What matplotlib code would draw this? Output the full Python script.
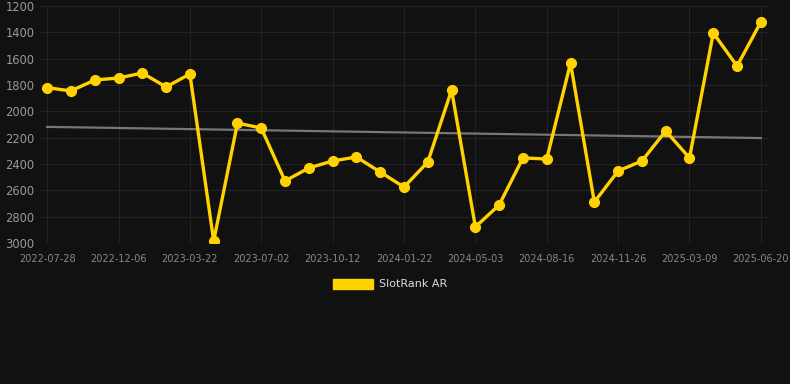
import matplotlib
matplotlib.use('Agg')
import matplotlib.pyplot as plt
from matplotlib.patches import Patch
import numpy as np

# SlotRank AR 값 (순위, 낮을수록 위)
ranks = [1820, 1845, 1762, 1747, 1709, 1815, 1716, 2985, 2089, 2127,
         2529, 2430, 2377, 2347, 2461, 2575, 2385, 1838, 2878, 2711,
         2354, 2362, 1633, 2689, 2453, 2377, 2149, 2354, 1405, 1656, 1322]
tick_labels = ['2022-07-28', '2022-12-06', '2023-03-22', '2023-07-02', '2023-10-12',
               '2024-01-22', '2024-05-03', '2024-08-16', '2024-11-26', '2025-03-09',
               '2025-06-20']
trend_start, trend_end = 2118, 2203
y_ticks = [1200, 1400, 1600, 1800, 2000, 2200, 2400, 2600, 2800, 3000]

bg = '#111111'
gold = '#FFD200'

fig = plt.figure(figsize=(7.9, 3.84), dpi=100, facecolor=bg)
ax = fig.add_axes([40/790, 1 - 243/384, (768-40)/790, 237/384], facecolor=bg)

x = np.arange(len(ranks))
ax.plot([x[0], x[-1]], [trend_start, trend_end], color='#777777', lw=1.6, zorder=2)
ax.plot(x, ranks, color=gold, lw=2.4, marker='o', markersize=7, zorder=3)

ax.set_xlim(-0.3, len(ranks) - 1 + 0.3)
ax.set_ylim(3000, 1200)
ax.set_yticks(y_ticks)
ax.set_xticks(x[::3])
ax.set_xticklabels(tick_labels)

ax.grid(True, color='#222222', lw=0.8)
ax.set_axisbelow(True)
for s in ax.spines.values():
    s.set_visible(False)
ax.tick_params(axis='y', length=0, pad=4, labelsize=8.3, labelcolor='#999999')
ax.tick_params(axis='x', length=0, pad=8, labelsize=7, labelcolor='#888888')

fig.legend(handles=[Patch(color=gold, label='SlotRank AR')], loc='center',
           bbox_to_anchor=(0.5 - 5/790, 1 - 284/384), frameon=False, fontsize=8,
           labelcolor='#dddddd', handlelength=3.6, handleheight=1.0, handletextpad=0.6)

fig.savefig('out.png', dpi=100, facecolor=bg)
